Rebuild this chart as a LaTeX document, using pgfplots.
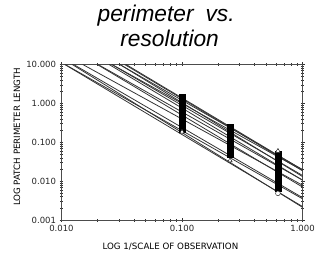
\documentclass[border=0pt]{standalone}
\usepackage{fontspec}
\setmainfont{DejaVu Sans}
\newfontfamily\titlefont{Liberation Sans}
\usepackage{pgfplots}
\pgfplotsset{compat=1.18}
\begin{document}
\begin{tikzpicture}
\path (-62bp,-36bp) rectangle (256bp,222bp);
\node[anchor=base, font=\titlefont\itshape\fontsize{23}{25}\selectfont] at (105.5bp,200bp) {perimeter\hspace{12bp}vs.};
\node[anchor=base, font=\titlefont\itshape\fontsize{23}{25}\selectfont] at (109bp,175bp) {resolution};
\begin{axis}[at={(0,0)}, anchor=south west, scale only axis,
  width=243bp, height=157bp,
  xmode=log, ymode=log, xmin=0.01, xmax=1, ymin=0.001, ymax=10,
  xtick={0.01,0.1,1}, xticklabels={0.010,0.100,1.000},
  ytick={0.001,0.01,0.1,1,10}, yticklabels={0.001,0.010,0.100,1.000,10.000},
  minor xtick={}, minor ytick={},
  tick align=center, major tick length=4bp,
  tick style={black!80, line width=0.6bp},
  tick label style={font=\fontsize{8.6}{9}\selectfont, text=black!85},
  axis line style={black!70, line width=0.6bp},
  xlabel={LOG 1/SCALE OF OBSERVATION},
  ylabel={LOG PATCH PERIMETER LENGTH},
  xlabel style={font=\fontsize{8.8}{9}\selectfont, at={(axis description cs:0.452,0)}, anchor=base, yshift=-30bp},
  ylabel style={font=\fontsize{8.8}{9}\selectfont, at={(axis description cs:-0.185,0.535)}, anchor=center, rotate=0},
]
% regression lines
\pgfplotsset{regline/.style={black!80, line width=0.8bp}}
\addplot[regline] coordinates {(0.01064,10) (1,0.00224)};
\addplot[regline] coordinates {(0.01227,10) (1,0.00214)};
\addplot[regline] coordinates {(0.0107,10) (1,0.00355)};
\addplot[regline] coordinates {(0.0126,10) (1,0.0038)};
\addplot[regline] coordinates {(0.0150,10) (1,0.0079)};
\addplot[regline] coordinates {(0.0198,10) (1,0.0071)};
\addplot[regline] coordinates {(0.0201,10) (1,0.0107)};
\addplot[regline] coordinates {(0.0248,10) (1,0.0107)};
\addplot[regline] coordinates {(0.0261,10) (1,0.0141)};
\addplot[regline] coordinates {(0.0262,10) (1,0.0190)};
\addplot[regline] coordinates {(0.0305,10) (1,0.0132)};
\addplot[regline] coordinates {(0.0304,10) (1,0.0200)};
\addplot[regline] coordinates {(0.0334,10) (1,0.0186)};
\addplot[regline] coordinates {(0.0343,10) (1,0.0195)};
% filled squares
\addplot[only marks, mark=square*, mark size=2.8bp, black] coordinates {
(0.1,1.445) (0.1,1.259) (0.1,1.096) (0.1,0.955) (0.1,0.832) (0.1,0.724) (0.1,0.631) (0.1,0.550)
(0.1,0.479) (0.1,0.417) (0.1,0.363) (0.1,0.316) (0.1,0.275) (0.1,0.240) (0.1,0.209)
(0.25,0.251) (0.25,0.219) (0.25,0.191) (0.25,0.166) (0.25,0.145) (0.25,0.126) (0.25,0.110)
(0.25,0.0955) (0.25,0.0832) (0.25,0.0724) (0.25,0.0631) (0.25,0.0550) (0.25,0.0479)
(0.625,0.0501) (0.625,0.0437) (0.625,0.0380) (0.625,0.0331) (0.625,0.0288) (0.625,0.0251)
(0.625,0.0219) (0.625,0.0191) (0.625,0.0166) (0.625,0.0145) (0.625,0.0126) (0.625,0.0110)
(0.625,0.00955) (0.625,0.00832) (0.625,0.00724) (0.625,0.00661)
};
% open triangles
\addplot[only marks, mark=triangle*, mark size=2.6bp, black, mark options={fill=white}] coordinates {
(0.1,0.186) (0.25,0.034) (0.625,0.060)
};
% open circles
\addplot[only marks, mark=*, mark size=2.4bp, black, mark options={fill=white}] coordinates {
(0.625,0.0049)
};
\end{axis}
\end{tikzpicture}
\end{document}
